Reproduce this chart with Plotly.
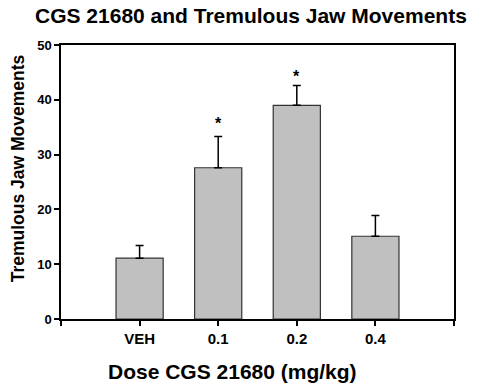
import plotly.graph_objects as go

categories = ["VEH", "0.1", "0.2", "0.4"]
means = [11.1, 27.6, 39.0, 15.1]
sem = [2.3, 5.7, 3.6, 3.8]
significance_marks = ["", "*", "*", ""]
mark_heights = [None, 35.7, 44.3, None]

xpos = list(range(len(categories)))
FONT = "Liberation Sans, Arial, sans-serif"
PW, PH = 393, 274.5

fig = go.Figure()
fig.add_trace(go.Bar(
    x=xpos, y=means, width=0.6,
    marker=dict(color="#c0c0c0", line=dict(color="#333333", width=1.2)),
    error_y=dict(type="data", array=sem, arrayminus=[0]*len(sem), symmetric=False,
                 color="#000000", thickness=1.5, width=4),
    showlegend=False,
))

for i, (mk, h) in enumerate(zip(significance_marks, mark_heights)):
    if mk:
        fig.add_annotation(x=i, y=h, text="<b>%s</b>" % mk, showarrow=False,
                           font=dict(size=16, color="black", family=FONT),
                           xref="x", yref="y")

fig.update_layout(
    width=490, height=389,
    margin=dict(l=61, r=36, t=44.5, b=70),
    paper_bgcolor="white", plot_bgcolor="white",
    font=dict(family=FONT, color="black"),
    xaxis=dict(range=[-1, 4], tickvals=[-1, 0, 1, 2, 3, 4],
               ticktext=["", "<b>VEH</b>", "<b>0.1</b>", "<b>0.2</b>", "<b>0.4</b>", ""],
               ticks="outside", ticklen=5, tickwidth=1.5, tickcolor="black",
               showline=True, linecolor="black", linewidth=1.5, mirror=True,
               showgrid=False, zeroline=False, tickfont=dict(size=15, family=FONT)),
    yaxis=dict(range=[0, 50], tickvals=[0, 10, 20, 30, 40, 50],
               ticktext=["<b>%d</b>" % v for v in [0, 10, 20, 30, 40, 50]],
               ticks="outside", ticklen=5, tickwidth=1.5, tickcolor="black",
               showline=True, linecolor="black", linewidth=1.5, mirror=True,
               showgrid=False, zeroline=False, tickfont=dict(size=13, family=FONT)),
)

fig.add_annotation(text="<b>CGS 21680 and Tremulous Jaw Movements</b>", xref="paper", yref="paper",
                   x=(251 - 61) / PW, y=(319 - 15) / PH, showarrow=False,
                   xanchor="center", yanchor="middle",
                   font=dict(size=21, family=FONT, color="black"))
fig.add_annotation(text="<b>Dose CGS 21680 (mg/kg)</b>", xref="paper", yref="paper",
                   x=(232 - 61) / PW, y=-(372 - 319) / PH, showarrow=False,
                   xanchor="center", yanchor="middle",
                   font=dict(size=21, family=FONT, color="black"))
fig.add_annotation(text="<b>Tremulous Jaw Movements</b>", xref="paper", yref="paper",
                   x=-(61 - 18) / PW, y=(319 - 168) / PH, showarrow=False, textangle=-90,
                   xanchor="center", yanchor="middle",
                   font=dict(size=17.5, family=FONT, color="black"))

fig.write_html("out.html", config={"displayModeBar": False},
               post_script="document.body.style.margin='0';document.body.style.padding='0';")
